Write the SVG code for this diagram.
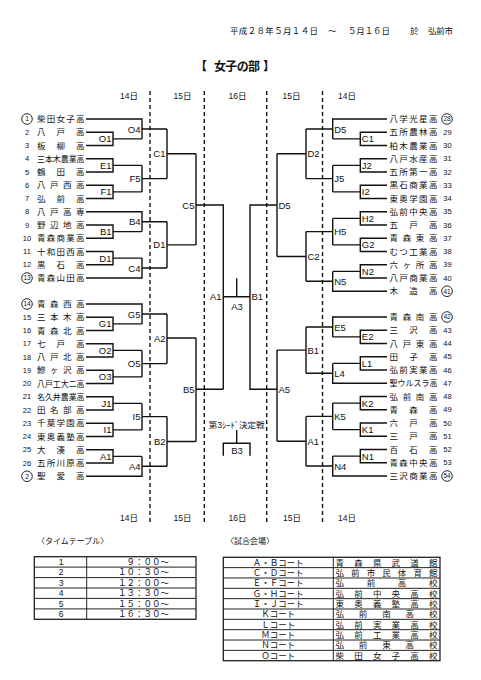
<svg xmlns="http://www.w3.org/2000/svg" width="481" height="680" viewBox="0 0 481 680">
<style>
.ln{fill:none;stroke:#111;stroke-width:1.4}
.dash{stroke:#111;stroke-width:1.4;stroke-dasharray:4 3}
.nm{font-family:"Noto Sans CJK JP",sans-serif;font-size:8.5px;fill:#111}
.no{font-family:"Liberation Sans",sans-serif;font-size:7.5px;text-anchor:middle;fill:#111}
.cn{font-family:"Liberation Sans",sans-serif;font-size:6.5px;text-anchor:middle;fill:#111}
.ci{fill:none;stroke:#111;stroke-width:0.9}
.lb{font-family:"Liberation Sans",sans-serif;font-size:9.5px;fill:#111}
.l{text-anchor:end}
.c{text-anchor:middle}
.day{font-family:"Liberation Sans","Noto Sans CJK JP",sans-serif;font-size:8.5px;text-anchor:middle;fill:#111}
.jp{font-family:"Liberation Sans","Noto Sans CJK JP",sans-serif;font-size:8.5px;fill:#111}
.tt{font-family:"Noto Sans CJK JP",sans-serif;font-size:12px;font-weight:bold;fill:#111}
.tb{fill:none;stroke:#222;stroke-width:1}
</style>
<rect width="481" height="680" fill="#fff"/>

<g id="header">
<text class="jp" x="230" y="34" textLength="88" lengthAdjust="spacing">平成２８年５月１４日</text>
<text class="jp" x="328" y="34">～</text>
<text class="jp" x="348" y="34" textLength="42" lengthAdjust="spacing">５月１６日</text>
<text class="jp" x="410" y="34">於</text>
<text class="jp" x="428" y="34" textLength="25" lengthAdjust="spacing">弘前市</text>
<text class="tt" x="195" y="71">【</text>
<text class="tt" x="214" y="71" textLength="46" lengthAdjust="spacing">女子の部</text>
<text class="tt" x="263" y="71">】</text>
</g>

<g id="days">
<text class="day" x="129" y="99">14日</text>
<text class="day" x="182.5" y="99">15日</text>
<text class="day" x="237.5" y="99">16日</text>
<text class="day" x="291.5" y="99">15日</text>
<text class="day" x="347" y="99">14日</text>
<text class="day" x="129" y="521">14日</text>
<text class="day" x="182.5" y="521">15日</text>
<text class="day" x="237.5" y="521">16日</text>
<text class="day" x="292" y="521">15日</text>
<text class="day" x="347" y="521">14日</text>
<line class="dash" x1="150" y1="91" x2="150" y2="524"/>
<line class="dash" x1="204.3" y1="91" x2="204.3" y2="524"/>
<line class="dash" x1="266.7" y1="91" x2="266.7" y2="524"/>
<line class="dash" x1="322.5" y1="91" x2="322.5" y2="524"/>
</g>

<g id="connectors">
<path class="ln" d="M86 132.25H113V145.5H86M113 138.9H142M86 119H142V138.9M142 129H167
M86 158.75H113V172H86M113 165.4H142M86 185.25H113V198.5H86M113 191.9H142M142 165.4V191.9M142 178.6H167
M167 129V178.6M167 153.8H196
M86 211.75H142V231.6M86 225H113V238.25H86M113 231.6H142M142 221.7H167
M86 251.5H113V264.75H86M113 258.1H142M86 278H142V258.1M142 268H167
M167 221.7V268M167 244.9H196M196 153.8V244.9M196 205H223.3V389.3"/>
<path class="ln" d="M86 304H142V323.9M86 317.25H113V330.5H86M113 323.9H142M142 314H167
M86 343.75H113V357H86M113 350.4H142M86 370.25H113V383.5H86M113 376.9H142M142 350.4V376.9M142 363.6H167
M167 314V363.6M167 338H196
M86 396.75H113V410H86M113 403.4H142M86 423.25H113V436.5H86M113 429.9H142M142 403.4V429.9M142 416.6H167
M86 449.75H113V463H86M113 456.4H142M86 476.25H142V456.4M142 466.3H167
M167 416.6V466.3M167 441.5H196M196 338V441.5M196 389.3H223.3"/>
<path class="ln" d="M223.3 296.7H250M236.7 278.3V296.7M277 205H250V389.3H277
M236.7 430V443.3M223.3 455.7V443.3H250V455.7"/>
<path class="ln" d="M387 119H332.7V138.9M387 132.25H360.3V145.5H387M360.3 138.9H332.7M332.7 129H306
M387 158.75H360.3V172H387M360.3 165.4H332.7M387 185.25H360.3V198.5H387M360.3 191.9H332.7M332.7 165.4V191.9M332.7 178.6H306
M306 129V178.6M306 153.8H277
M387 211.75H360.3V225H387M360.3 218.4H332.7M387 238.25H360.3V251.5H387M360.3 244.9H332.7M332.7 218.4V244.9M332.7 231.6H306
M387 264.75H360.3V278H387M360.3 271.4H332.7M387 291.25H332.7V271.4M332.7 281.3H306
M306 231.6V281.3M306 256.5H277M277 153.8V256.5"/>
<path class="ln" d="M387 317H332.7V336.9M387 330.25H360.3V343.5H387M360.3 336.9H332.7M332.7 327H306
M387 356.75H360.3V370H387M360.3 363.4H332.7M387 383.25H332.7V363.4M332.7 373.3H306
M306 327V373.3M306 350.1H277
M387 396.5H360.3V409.75H387M360.3 403.1H332.7M387 423H360.3V436.25H387M360.3 429.6H332.7M332.7 403.1V429.6M332.7 416.4H306
M387 449.5H360.3V462.75H387M360.3 456.1H332.7M387 476H332.7V456.1M332.7 466H306
M306 416.4V466M306 441.2H277M277 350.1V441.2"/>
</g>

<g id="matches">
<text class="lb l" x="111.5" y="142.4">O1</text>
<text class="lb l" x="140.5" y="132.5">O4</text>
<text class="lb l" x="111.5" y="168.9">E1</text>
<text class="lb l" x="111.5" y="195.4">F1</text>
<text class="lb l" x="140.5" y="182.1">F5</text>
<text class="lb l" x="165.5" y="157.3">C1</text>
<text class="lb l" x="111.5" y="235.1">B1</text>
<text class="lb l" x="140.5" y="225.2">B4</text>
<text class="lb l" x="111.5" y="261.6">D1</text>
<text class="lb l" x="140.5" y="271.5">C4</text>
<text class="lb l" x="165.5" y="248.4">D1</text>
<text class="lb l" x="194.5" y="208.5">C5</text>
<text class="lb l" x="111.5" y="327.4">G1</text>
<text class="lb l" x="140.5" y="317.5">G5</text>
<text class="lb l" x="111.5" y="353.9">O2</text>
<text class="lb l" x="111.5" y="380.4">O3</text>
<text class="lb l" x="140.5" y="367.1">O5</text>
<text class="lb l" x="165.5" y="341.5">A2</text>
<text class="lb l" x="111.5" y="406.9">J1</text>
<text class="lb l" x="111.5" y="433.4">I1</text>
<text class="lb l" x="140.5" y="420.1">I5</text>
<text class="lb l" x="111.5" y="459.9">A1</text>
<text class="lb l" x="140.5" y="469.8">A4</text>
<text class="lb l" x="165.5" y="445">B2</text>
<text class="lb l" x="194.5" y="392.8">B5</text>
<text class="lb l" x="221.5" y="300.2">A1</text>
<text class="lb" x="251.5" y="300.2">B1</text>
<text class="lb c" x="237" y="309.8">A3</text>
<text class="lb c" x="237" y="453.5">B3</text>
<text class="jp c" x="236.7" y="428" style="font-size:8.5px">第3ｼｰﾄﾞ決定戦</text>
<text class="lb" x="278.5" y="208.5">D5</text>
<text class="lb" x="334.2" y="132.5">D5</text>
<text class="lb" x="361.8" y="142.4">C1</text>
<text class="lb" x="361.8" y="168.9">J2</text>
<text class="lb" x="361.8" y="195.4">I2</text>
<text class="lb" x="334.2" y="182.1">J5</text>
<text class="lb" x="307.5" y="157.3">D2</text>
<text class="lb" x="361.8" y="221.9">H2</text>
<text class="lb" x="361.8" y="248.4">G2</text>
<text class="lb" x="334.2" y="235.1">H5</text>
<text class="lb" x="361.8" y="274.9">N2</text>
<text class="lb" x="334.2" y="284.8">N5</text>
<text class="lb" x="307.5" y="260">C2</text>
<text class="lb" x="361.8" y="340.4">E2</text>
<text class="lb" x="334.2" y="330.5">E5</text>
<text class="lb" x="361.8" y="366.9">L1</text>
<text class="lb" x="334.2" y="376.8">L4</text>
<text class="lb" x="307.5" y="353.6">B1</text>
<text class="lb" x="361.8" y="406.6">K2</text>
<text class="lb" x="361.8" y="433.1">K1</text>
<text class="lb" x="334.2" y="419.9">K5</text>
<text class="lb" x="361.8" y="459.6">N1</text>
<text class="lb" x="334.2" y="469.5">N4</text>
<text class="lb" x="307.5" y="444.7">A1</text>
<text class="lb" x="278.5" y="392.8">A5</text>
</g>

<g id="t1"><circle class="ci" cx="27" cy="119" r="5.3"/><text class="cn" x="27" y="121.4">1</text><text class="nm" x="37" y="122.2" textLength="47.5" lengthAdjust="spacing">柴田女子高</text></g>
<g id="t2"><text class="no" x="27" y="135.15">2</text><text class="nm" x="37" y="135.45" textLength="47.5" lengthAdjust="spacing">八戸高</text></g>
<g id="t3"><text class="no" x="27" y="148.2">3</text><text class="nm" x="37" y="148.7" textLength="47.5" lengthAdjust="spacing">板柳高</text></g>
<g id="t4"><text class="no" x="27" y="161.45">4</text><text class="nm" x="37" y="161.95" textLength="47.5" lengthAdjust="spacingAndGlyphs">三本木農業高</text></g>
<g id="t5"><text class="no" x="27" y="174.7">5</text><text class="nm" x="37" y="175.2" textLength="47.5" lengthAdjust="spacing">鶴田高</text></g>
<g id="t6"><text class="no" x="27" y="187.95">6</text><text class="nm" x="37" y="188.45" textLength="47.5" lengthAdjust="spacing">八戸西高</text></g>
<g id="t7"><text class="no" x="27" y="201.2">7</text><text class="nm" x="37" y="201.7" textLength="47.5" lengthAdjust="spacing">弘前高</text></g>
<g id="t8"><text class="no" x="27" y="214.45">8</text><text class="nm" x="37" y="214.95" textLength="47.5" lengthAdjust="spacing">八戸高専</text></g>
<g id="t9"><text class="no" x="27" y="227.7">9</text><text class="nm" x="37" y="228.2" textLength="47.5" lengthAdjust="spacing">野辺地高</text></g>
<g id="t10"><text class="no" x="27" y="240.95">10</text><text class="nm" x="37" y="241.45" textLength="47.5" lengthAdjust="spacing">青森商業高</text></g>
<g id="t11"><text class="no" x="27" y="254.2">11</text><text class="nm" x="37" y="254.7" textLength="47.5" lengthAdjust="spacing">十和田西高</text></g>
<g id="t12"><text class="no" x="27" y="267.45">12</text><text class="nm" x="37" y="267.95" textLength="47.5" lengthAdjust="spacing">黒石高</text></g>
<g id="t13"><circle class="ci" cx="27" cy="278" r="5.3"/><text class="cn" x="27" y="280.4">13</text><text class="nm" x="37" y="281.2" textLength="47.5" lengthAdjust="spacing">青森山田高</text></g>
<g id="t14"><circle class="ci" cx="27" cy="304" r="5.3"/><text class="cn" x="27" y="306.4">14</text><text class="nm" x="37" y="307.2" textLength="47.5" lengthAdjust="spacing">青森西高</text></g>
<g id="t15"><text class="no" x="27" y="319.95">15</text><text class="nm" x="37" y="320.45" textLength="47.5" lengthAdjust="spacing">三本木高</text></g>
<g id="t16"><text class="no" x="27" y="333.2">16</text><text class="nm" x="37" y="333.7" textLength="47.5" lengthAdjust="spacing">青森北高</text></g>
<g id="t17"><text class="no" x="27" y="346.45">17</text><text class="nm" x="37" y="346.95" textLength="47.5" lengthAdjust="spacing">七戸高</text></g>
<g id="t18"><text class="no" x="27" y="359.7">18</text><text class="nm" x="37" y="360.2" textLength="47.5" lengthAdjust="spacing">八戸北高</text></g>
<g id="t19"><text class="no" x="27" y="372.95">19</text><text class="nm" x="37" y="373.45" textLength="47.5" lengthAdjust="spacing">鰺ヶ沢高</text></g>
<g id="t20"><text class="no" x="27" y="386.2">20</text><text class="nm" x="37" y="386.7" textLength="47.5" lengthAdjust="spacingAndGlyphs">八戸工大二高</text></g>
<g id="t21"><text class="no" x="27" y="399.45">21</text><text class="nm" x="37" y="399.95" textLength="47.5" lengthAdjust="spacingAndGlyphs">名久井農業高</text></g>
<g id="t22"><text class="no" x="27" y="412.7">22</text><text class="nm" x="37" y="413.2" textLength="47.5" lengthAdjust="spacing">田名部高</text></g>
<g id="t23"><text class="no" x="27" y="425.95">23</text><text class="nm" x="37" y="426.45" textLength="47.5" lengthAdjust="spacing">千葉学園高</text></g>
<g id="t24"><text class="no" x="27" y="439.2">24</text><text class="nm" x="37" y="439.7" textLength="47.5" lengthAdjust="spacing">東奥義塾高</text></g>
<g id="t25"><text class="no" x="27" y="452.45">25</text><text class="nm" x="37" y="452.95" textLength="47.5" lengthAdjust="spacing">大湊高</text></g>
<g id="t26"><text class="no" x="27" y="465.7">26</text><text class="nm" x="37" y="466.2" textLength="47.5" lengthAdjust="spacing">五所川原高</text></g>
<g id="t27"><circle class="ci" cx="27" cy="476.25" r="5.3"/><text class="cn" x="27" y="478.65">2</text><text class="nm" x="37" y="479.45" textLength="47.5" lengthAdjust="spacing">聖愛高</text></g>

<g id="t28"><circle class="ci" cx="447" cy="119" r="5.3"/><text class="cn" x="447" y="121.4">28</text><text class="nm" x="389.5" y="122.2" textLength="48" lengthAdjust="spacing">八学光星高</text></g>
<g id="t29"><text class="no" x="447.5" y="134.95">29</text><text class="nm" x="389.5" y="135.45" textLength="48" lengthAdjust="spacing">五所農林高</text></g>
<g id="t30"><text class="no" x="447.5" y="148.2">30</text><text class="nm" x="389.5" y="148.7" textLength="48" lengthAdjust="spacing">柏木農業高</text></g>
<g id="t31"><text class="no" x="447.5" y="161.45">31</text><text class="nm" x="389.5" y="161.95" textLength="48" lengthAdjust="spacing">八戸水産高</text></g>
<g id="t32"><text class="no" x="447.5" y="174.7">32</text><text class="nm" x="389.5" y="175.2" textLength="48" lengthAdjust="spacing">五所第一高</text></g>
<g id="t33"><text class="no" x="447.5" y="187.95">33</text><text class="nm" x="389.5" y="188.45" textLength="48" lengthAdjust="spacing">黒石商業高</text></g>
<g id="t34"><text class="no" x="447.5" y="201.2">34</text><text class="nm" x="389.5" y="201.7" textLength="48" lengthAdjust="spacing">東奥学園高</text></g>
<g id="t35"><text class="no" x="447.5" y="214.45">35</text><text class="nm" x="389.5" y="214.95" textLength="48" lengthAdjust="spacing">弘前中央高</text></g>
<g id="t36"><text class="no" x="447.5" y="227.7">36</text><text class="nm" x="389.5" y="228.2" textLength="48" lengthAdjust="spacing">五戸高</text></g>
<g id="t37"><text class="no" x="447.5" y="240.95">37</text><text class="nm" x="389.5" y="241.45" textLength="48" lengthAdjust="spacing">青森東高</text></g>
<g id="t38"><text class="no" x="447.5" y="254.2">38</text><text class="nm" x="389.5" y="254.7" textLength="48" lengthAdjust="spacing">むつ工業高</text></g>
<g id="t39"><text class="no" x="447.5" y="267.45">39</text><text class="nm" x="389.5" y="267.95" textLength="48" lengthAdjust="spacing">六ヶ所高</text></g>
<g id="t40"><text class="no" x="447.5" y="280.7">40</text><text class="nm" x="389.5" y="281.2" textLength="48" lengthAdjust="spacing">八戸商業高</text></g>
<g id="t41"><circle class="ci" cx="447" cy="291.25" r="5.3"/><text class="cn" x="447" y="293.65">41</text><text class="nm" x="389.5" y="294.45" textLength="48" lengthAdjust="spacing">木造高</text></g>
<g id="t42"><circle class="ci" cx="447" cy="317" r="5.3"/><text class="cn" x="447" y="319.4">42</text><text class="nm" x="389.5" y="320.2" textLength="48" lengthAdjust="spacing">青森南高</text></g>
<g id="t43"><text class="no" x="447.5" y="332.95">43</text><text class="nm" x="389.5" y="333.45" textLength="48" lengthAdjust="spacing">三沢高</text></g>
<g id="t44"><text class="no" x="447.5" y="346.2">44</text><text class="nm" x="389.5" y="346.7" textLength="48" lengthAdjust="spacing">八戸東高</text></g>
<g id="t45"><text class="no" x="447.5" y="359.45">45</text><text class="nm" x="389.5" y="359.95" textLength="48" lengthAdjust="spacing">田子高</text></g>
<g id="t46"><text class="no" x="447.5" y="372.7">46</text><text class="nm" x="389.5" y="373.2" textLength="48" lengthAdjust="spacing">弘前実業高</text></g>
<g id="t47"><text class="no" x="447.5" y="385.95">47</text><text class="nm" x="389.5" y="386.45" textLength="48" lengthAdjust="spacingAndGlyphs">聖ウルスラ高</text></g>
<g id="t48"><text class="no" x="447.5" y="399.2">48</text><text class="nm" x="389.5" y="399.7" textLength="48" lengthAdjust="spacing">弘前南高</text></g>
<g id="t49"><text class="no" x="447.5" y="412.45">49</text><text class="nm" x="389.5" y="412.95" textLength="48" lengthAdjust="spacing">青森高</text></g>
<g id="t50"><text class="no" x="447.5" y="425.7">50</text><text class="nm" x="389.5" y="426.2" textLength="48" lengthAdjust="spacing">六戸高</text></g>
<g id="t51"><text class="no" x="447.5" y="438.95">51</text><text class="nm" x="389.5" y="439.45" textLength="48" lengthAdjust="spacing">三戸高</text></g>
<g id="t52"><text class="no" x="447.5" y="452.2">52</text><text class="nm" x="389.5" y="452.7" textLength="48" lengthAdjust="spacing">百石高</text></g>
<g id="t53"><text class="no" x="447.5" y="465.45">53</text><text class="nm" x="389.5" y="465.95" textLength="48" lengthAdjust="spacing">青森中央高</text></g>
<g id="t54"><circle class="ci" cx="447" cy="476" r="5.3"/><text class="cn" x="447" y="478.4">54</text><text class="nm" x="389.5" y="479.2" textLength="48" lengthAdjust="spacing">三沢商業高</text></g>

<g id="timetable">
<text class="jp" x="37" y="543.5" style="font-size:8px">〈タイムテーブル〉</text>
<rect class="tb" x="34.3" y="556.7" width="161.7" height="62.6" style="stroke-width:1.3"/>
<path class="tb" d="M86.7 556.7V619.3M34.3 567.1H196M34.3 577.6H196M34.3 588H196M34.3 598.4H196M34.3 608.9H196"/>
<g class="jp">
<text class="c" x="61" y="565">1</text><text x="169" y="565" text-anchor="end">９：００～</text>
<text class="c" x="61" y="575.4">2</text><text x="169" y="575.4" text-anchor="end">１０：３０～</text>
<text class="c" x="61" y="585.9">3</text><text x="169" y="585.9" text-anchor="end">１２：００～</text>
<text class="c" x="61" y="596.3">4</text><text x="169" y="596.3" text-anchor="end">１３：３０～</text>
<text class="c" x="61" y="606.7">5</text><text x="169" y="606.7" text-anchor="end">１５：００～</text>
<text class="c" x="61" y="617.2">6</text><text x="169" y="617.2" text-anchor="end">１６：３０～</text>
</g>
</g>

<g id="venues">
<text class="jp" x="226" y="543.5" style="font-size:8px">〈試合会場〉</text>
<rect class="tb" x="223.3" y="557.3" width="216.7" height="103.4" style="stroke-width:1.3"/>
<path class="tb" d="M333.3 557.3V660.7M223.3 567.64H440M223.3 577.98H440M223.3 588.32H440M223.3 598.66H440M223.3 609H440M223.3 619.34H440M223.3 629.68H440M223.3 640.02H440M223.3 650.36H440"/>
<g class="jp">
<text class="c" x="278.3" y="565.6">Ａ・Ｂコート</text><text x="335.5" y="565.6" textLength="102" lengthAdjust="spacing">青森県武道館</text>
<text class="c" x="278.3" y="575.9">Ｃ・Ｄコート</text><text x="335.5" y="575.9" textLength="102" lengthAdjust="spacing">弘前市民体育館</text>
<text class="c" x="278.3" y="586.3">Ｅ・Ｆコート</text><text x="335.5" y="586.3" textLength="102" lengthAdjust="spacing">弘前高校</text>
<text class="c" x="278.3" y="596.6">Ｇ・Ｈコート</text><text x="335.5" y="596.6" textLength="102" lengthAdjust="spacing">弘前中央高校</text>
<text class="c" x="278.3" y="607">Ｉ・Ｊコート</text><text x="335.5" y="607" textLength="102" lengthAdjust="spacing">東奥義塾高校</text>
<text class="c" x="278.3" y="617.3">Ｋコート</text><text x="335.5" y="617.3" textLength="102" lengthAdjust="spacing">弘前南高校</text>
<text class="c" x="278.3" y="627.6">Ｌコート</text><text x="335.5" y="627.6" textLength="102" lengthAdjust="spacing">弘前実業高校</text>
<text class="c" x="278.3" y="638">Ｍコート</text><text x="335.5" y="638" textLength="102" lengthAdjust="spacing">弘前工業高校</text>
<text class="c" x="278.3" y="648.3">Ｎコート</text><text x="335.5" y="648.3" textLength="102" lengthAdjust="spacing">弘前東高校</text>
<text class="c" x="278.3" y="658.7">Ｏコート</text><text x="335.5" y="658.7" textLength="102" lengthAdjust="spacing">柴田女子高校</text>
</g>
</g>
</svg>
